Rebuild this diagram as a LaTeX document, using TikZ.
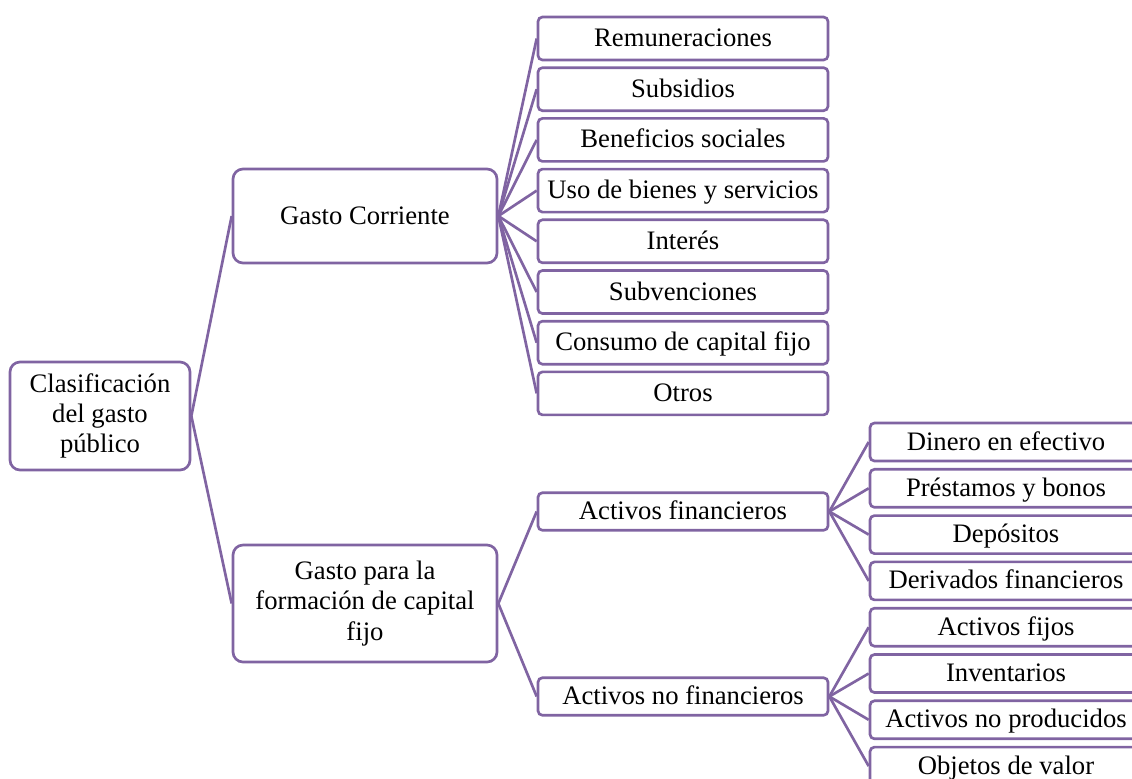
\documentclass[tikz,border=0pt]{standalone}
\usepackage{fontspec}
\setmainfont{Liberation Serif}
\definecolor{smartpurple}{RGB}{128,100,162}

\begin{document}
\begin{tikzpicture}[x=0.45pt,y=-0.45pt,
    box/.style={draw=smartpurple,line width=1.2pt,fill=white,align=center,
      inner sep=1pt,font=\fontsize{12}{13.6}\selectfont},
    big/.style={box,rounded corners=4.5pt},
    leaf/.style={box,rounded corners=2pt,minimum width=130.5pt,minimum height=19.35pt,
      text height=9.2pt,text depth=2pt},
    subleaf/.style={leaf,minimum width=122.4pt,minimum height=17.1pt},
    link/.style={draw=smartpurple,line width=1.2pt}]
\useasboundingbox (0,0) rectangle (1132,778);
\clip (0,0) rectangle (1132,778);
\node[big,minimum width=81pt,minimum height=48.6pt] (root) at (100,416)
    {Clasificación\\del gasto\\público};
\node[big,minimum width=118.8pt,minimum height=42.3pt] (corr) at (365,216)
    {Gasto Corriente};
\node[big,minimum width=118.8pt,minimum height=52.65pt] (form) at (365,603.5)
    {Gasto para la\\formación de capital\\fijo};
\foreach \name/\txt [count=\i from 0] in {rem/Remuneraciones, subs/Subsidios,
    bene/Beneficios sociales, uso/Uso de bienes y servicios, inte/Interés,
    subv/Subvenciones, cons/Consumo de capital fijo, otros/Otros}
  \node[leaf] (\name) at (683,{38.5+50.7*\i}) {\txt};
\node[leaf,minimum height=16.9pt] (fin) at (683,511.5) {Activos financieros};
\node[leaf,minimum height=16.9pt] (nofin) at (683,696.5) {Activos no financieros};
\foreach \name/\txt [count=\i from 0] in {din/Dinero en efectivo,
    pres/Préstamos y bonos, dep/Depósitos, der/Derivados financieros,
    fij/Activos fijos, inv/Inventarios, noprod/Activos no producidos,
    obj/Objetos de valor}
  \node[subleaf] (\name) at (1006,{442+46.3*\i}) {\txt};
\draw[link] (root.east) -- (corr.west) (root.east) -- (form.west)
    (form.east) -- (fin.west) (form.east) -- (nofin.west);
\foreach \name in {rem,subs,bene,uso,inte,subv,cons,otros}
  \draw[link] (corr.east) -- (\name.west);
\foreach \name in {din,pres,dep,der}
  \draw[link] (fin.east) -- (\name.west);
\foreach \name in {fij,inv,noprod,obj}
  \draw[link] (nofin.east) -- (\name.west);
\end{tikzpicture}
\end{document}
